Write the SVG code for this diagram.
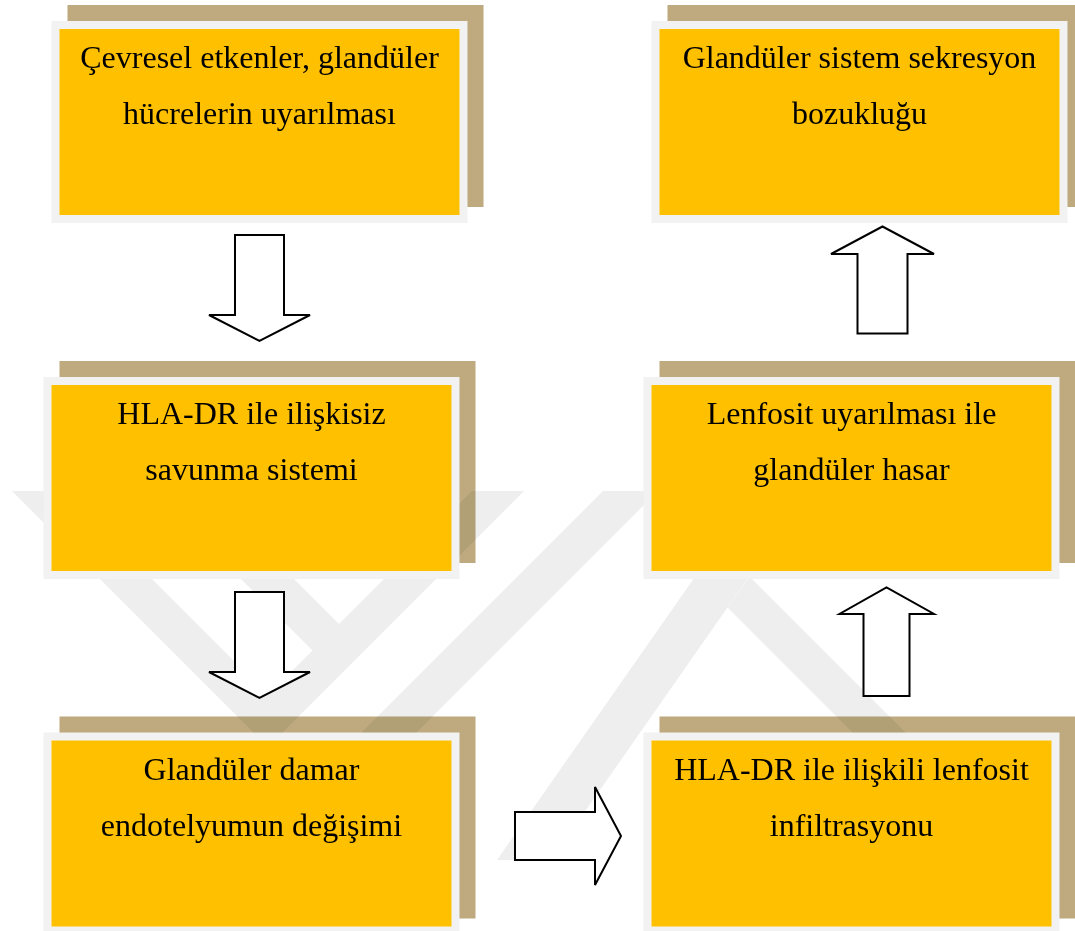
<svg xmlns="http://www.w3.org/2000/svg" width="1075" height="931" viewBox="0 0 1075 931">
<style>
.shadow{fill:#BEAA7E}
.frame{fill:#F2F2F2}
.fill{fill:#FFC000}
.lbl{font-family:"Liberation Serif","Times New Roman",serif;font-size:32px;fill:#000;text-anchor:middle}
.arrow{fill:#FFFFFF;stroke:#000000;stroke-width:2;stroke-linejoin:miter}
.wm{fill:#EEEEEE}
</style>
<defs>
<clipPath id="wmclip">
<path clip-rule="evenodd" d="M0 0H1075V931H0Z M51.5 21h416v202h-416Z M651.5 21h416v202h-416Z M43.5 377h416v202h-416Z M643.5 377h416v202h-416Z M43.5 732.5h416v202h-416Z M643.5 732.5h416v202h-416Z"/>
</clipPath>
</defs>
<rect x="0" y="0" width="1075" height="931" fill="#FFFFFF"/>

<g id="node-cevresel">
<rect class="shadow" x="67.5" y="5" width="416" height="202"/>
<rect class="frame" x="51.5" y="21" width="416" height="202"/>
<rect class="fill" x="59.5" y="29" width="400" height="186"/>
<text class="lbl" x="259.5" y="68">Çevresel etkenler, glandüler</text>
<text class="lbl" x="259.5" y="124">hücrelerin uyarılması</text>
</g>

<g id="node-sekresyon">
<rect class="shadow" x="667.5" y="5" width="416" height="202"/>
<rect class="frame" x="651.5" y="21" width="416" height="202"/>
<rect class="fill" x="659.5" y="29" width="400" height="186"/>
<text class="lbl" x="859.5" y="68">Glandüler sistem sekresyon</text>
<text class="lbl" x="859.5" y="124">bozukluğu</text>
</g>

<g id="node-savunma">
<rect class="shadow" x="59.5" y="361" width="416" height="202"/>
<rect class="frame" x="43.5" y="377" width="416" height="202"/>
<rect class="fill" x="51.5" y="385" width="400" height="186"/>
<text class="lbl" x="251.5" y="423.5">HLA-DR ile ilişkisiz</text>
<text class="lbl" x="251.5" y="479.5">savunma sistemi</text>
</g>

<g id="node-hasar">
<rect class="shadow" x="659.5" y="361" width="416" height="202"/>
<rect class="frame" x="643.5" y="377" width="416" height="202"/>
<rect class="fill" x="651.5" y="385" width="400" height="186"/>
<text class="lbl" x="851.5" y="423.5">Lenfosit uyarılması ile</text>
<text class="lbl" x="851.5" y="479.5">glandüler hasar</text>
</g>

<g id="node-endotel">
<rect class="shadow" x="59.5" y="716.5" width="416" height="202"/>
<rect class="frame" x="43.5" y="732.5" width="416" height="202"/>
<rect class="fill" x="51.5" y="740.5" width="400" height="186"/>
<text class="lbl" x="251.5" y="779.5">Glandüler damar</text>
<text class="lbl" x="251.5" y="835.5">endotelyumun değişimi</text>
</g>

<g id="node-infiltrasyon">
<rect class="shadow" x="659.5" y="716.5" width="416" height="202"/>
<rect class="frame" x="643.5" y="732.5" width="416" height="202"/>
<rect class="fill" x="651.5" y="740.5" width="400" height="186"/>
<text class="lbl" x="851.5" y="779.5">HLA-DR ile ilişkili lenfosit</text>
<text class="lbl" x="851.5" y="835.5">infiltrasyonu</text>
</g>

<g id="watermark" clip-path="url(#wmclip)" style="mix-blend-mode:multiply">
<polygon class="wm" points="12,491 64,491 268,695 472,491 524,491 268,747"/>
<polygon class="wm" points="153,491 206,491 339,624 312.5,650.5"/>
<polygon class="wm" points="603,491 658,491 289,860 234,860"/>
<polygon class="wm" points="755,491 809,491 551,860 497,860"/>
<polygon class="wm" points="749.5,576.5 1033,860 980,860 727.6,607.6"/>
</g>

<g id="connectors">
<polygon class="arrow" points="235,235 284,235 284,315 310,315 259.5,341 209,315 235,315"/>
<polygon class="arrow" points="235,592 284,592 284,672 310,672 259.5,698 209,672 235,672"/>
<polygon class="arrow" points="515,812 595,812 595,787 621,836 595,885 595,860 515,860"/>
<polygon class="arrow" points="863.5,696 909.5,696 909.5,614 934,614 886.5,587.5 839.5,614 863.5,614"/>
<polygon class="arrow" points="857.5,333.5 907.5,333.5 907.5,254 934,254 882.5,226.5 831,254 857.5,254"/>
</g>
</svg>
